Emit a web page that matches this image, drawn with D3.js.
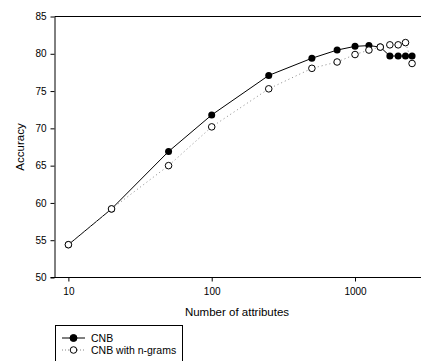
<!DOCTYPE html>
<html>
<head>
<meta charset="utf-8">
<script src="https://cdn.jsdelivr.net/npm/d3@7"></script>
<style>
  body { margin: 0; background: #fff; }
  text { font-family: "Liberation Sans", Arial, sans-serif; fill: #000; }
</style>
</head>
<body>
<div id="chart"></div>
<script>
  // number of attributes on the x axis
  const attributes = [10, 20, 50, 100, 250, 500, 750, 1000, 1250, 1500, 1750, 2000, 2250, 2500];
  // accuracy of each classifier
  const cnb = [54.4, 59.2, 66.9, 71.8, 77.1, 79.4, 80.5, 81.0, 81.1, 80.9, 79.7, 79.7, 79.7, 79.7];
  const cnbNgrams = [54.4, 59.2, 65.0, 70.2, 75.3, 78.05, 78.9, 79.9, 80.5, 80.9, 81.2, 81.2, 81.5, 78.7];
  const xTicks = [10, 100, 1000];
  const yTicks = [50, 55, 60, 65, 70, 75, 80, 85];
  const seriesNames = ['CNB', 'CNB with n-grams'];

  const width = 421, height = 361;
  const plotLeft = 54.5, plotTop = 16.5, plotBottom = 277.5, plotRight = 421;

  const svg = d3.select('#chart').append('svg')
      .attr('width', width)
      .attr('height', height);

  const x = d3.scaleLog().domain([8, 2886]).range([plotLeft, plotRight]);
  const y = d3.scaleLinear().domain([50, 85]).range([plotBottom, plotTop]);

  // top frame line
  svg.append('line')
      .attr('x1', plotLeft).attr('x2', plotRight)
      .attr('y1', plotTop).attr('y2', plotTop)
      .attr('stroke', '#000').attr('stroke-width', 1);

  const xAxis = svg.append('g')
      .attr('transform', `translate(0,${plotBottom})`)
      .call(d3.axisBottom(x).tickValues(xTicks).tickFormat(d3.format('d')).tickSize(4).tickSizeOuter(0));
  xAxis.select('.domain').attr('d', `M${plotLeft - 4},0H${plotRight}`);
  xAxis.selectAll('text').attr('font-size', 10).attr('dy', '1.05em');

  const yAxis = svg.append('g')
      .attr('transform', `translate(${plotLeft},0)`)
      .call(d3.axisLeft(y).tickValues(yTicks).tickSize(4).tickSizeOuter(0));
  yAxis.selectAll('text').attr('font-size', 10).attr('x', -8);

  svg.append('text')
      .attr('x', 237).attr('y', 316)
      .attr('text-anchor', 'middle')
      .attr('font-size', 11.5)
      .text('Number of attributes');

  svg.append('text')
      .attr('transform', 'translate(23.5,147) rotate(-90)')
      .attr('text-anchor', 'middle')
      .attr('font-size', 11.5)
      .text('Accuracy');

  const line = d3.line()
      .x((d, i) => x(attributes[i]))
      .y(d => y(d));

  // CNB: solid line with filled dots
  svg.append('path')
      .attr('d', line(cnb))
      .attr('fill', 'none')
      .attr('stroke', '#000')
      .attr('stroke-width', 1);

  // CNB with n-grams: dotted line with open dots
  svg.append('path')
      .attr('d', line(cnbNgrams))
      .attr('fill', 'none')
      .attr('stroke', '#888')
      .attr('stroke-width', 1)
      .attr('stroke-dasharray', '1,3');

  svg.append('g').selectAll('circle')
      .data(cnb)
      .join('circle')
      .attr('cx', (d, i) => x(attributes[i]))
      .attr('cy', d => y(d))
      .attr('r', 3.5)
      .attr('fill', '#000');

  svg.append('g').selectAll('circle')
      .data(cnbNgrams)
      .join('circle')
      .attr('cx', (d, i) => x(attributes[i]))
      .attr('cy', d => y(d))
      .attr('r', 3.3)
      .attr('fill', '#fff')
      .attr('stroke', '#000')
      .attr('stroke-width', 1);

  // legend
  const legend = svg.append('g');
  legend.append('rect')
      .attr('x', 55.5).attr('y', 325.5)
      .attr('width', 127).attr('height', 40)
      .attr('fill', '#fff').attr('stroke', '#000');

  seriesNames.forEach((name, i) => {
    const ly = 338 + i * 12;
    legend.append('line')
        .attr('x1', 62).attr('x2', 85)
        .attr('y1', ly).attr('y2', ly)
        .attr('stroke', i === 0 ? '#000' : '#888')
        .attr('stroke-dasharray', i === 0 ? null : '1,2');
    legend.append('circle')
        .attr('cx', 73.5).attr('cy', ly)
        .attr('r', i === 0 ? 3.5 : 3.3)
        .attr('fill', i === 0 ? '#000' : '#fff')
        .attr('stroke', '#000');
    legend.append('text')
        .attr('x', 91).attr('y', ly)
        .attr('dy', '0.35em')
        .attr('font-size', 10.5)
        .text(name);
  });
</script>
</body>
</html>
